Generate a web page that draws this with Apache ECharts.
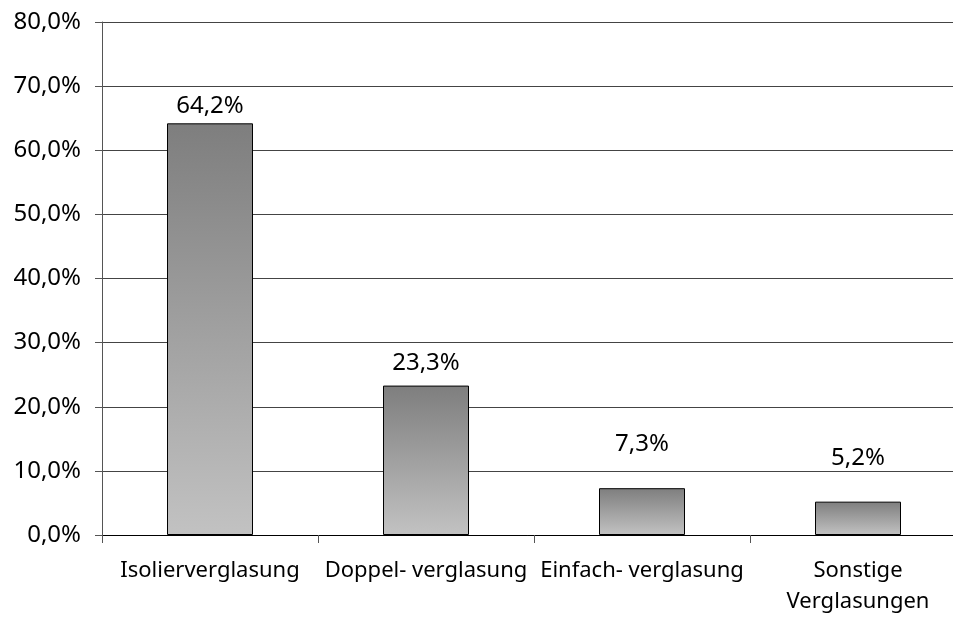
<!DOCTYPE html>
<html><head><meta charset="utf-8">
<script src="https://cdn.jsdelivr.net/npm/echarts@6/dist/echarts.min.js"></script>
<style>html,body{margin:0;padding:0;background:#fff}#c{width:953px;height:617px}</style>
</head><body><div id="c"></div>
<script>
const categories = ['Isolierverglasung', 'Doppel- verglasung', 'Einfach- verglasung', 'Sonstige\nVerglasungen'];
const values = [64.2, 23.3, 7.3, 5.2];
const yTicks = [0, 10, 20, 30, 40, 50, 60, 70, 80];
const labelGaps = [5, 10, 32, 31];

const fmt = v => v.toFixed(1).replace('.', ',') + '%';
const FONT = 'Noto Sans';
const chart = echarts.init(document.getElementById('c'));
chart.setOption({
  animation: false,
  grid: { left: 102, right: -13, top: 22, bottom: 82, containLabel: false, outerBoundsMode: 'none' },
  xAxis: {
    type: 'category', data: categories,
    axisLine: { lineStyle: { color: '#000', width: 1 } },
    axisTick: { show: true, length: 8, lineStyle: { color: '#555' } },
    axisLabel: { color: '#000', fontFamily: FONT, fontSize: 22, margin: 20, lineHeight: 31, interval: 0 }
  },
  yAxis: {
    type: 'value', min: yTicks[0], max: yTicks[yTicks.length - 1], interval: 10,
    axisLine: { show: true, lineStyle: { color: '#555' } },
    axisTick: { show: true, length: 7, lineStyle: { color: '#555' } },
    splitLine: { lineStyle: { color: '#444', width: 1 } },
    axisLabel: { color: '#000', fontFamily: FONT, fontSize: 24, margin: 21, formatter: v => fmt(v) }
  },
  series: [{
    type: 'bar', barWidth: 86,
    data: values.map((v, i) => ({ value: v, label: { distance: labelGaps[i] } })),
    itemStyle: {
      borderColor: '#000', borderWidth: 1,
      color: new echarts.graphic.LinearGradient(0, 0, 0, 1, [
        { offset: 0, color: '#7e7e7e' }, { offset: 1, color: '#c2c2c2' }
      ])
    },
    label: { show: true, position: 'top', color: '#000', fontFamily: FONT, fontSize: 24, formatter: p => fmt(p.value) }
  }]
});
</script></body></html>
